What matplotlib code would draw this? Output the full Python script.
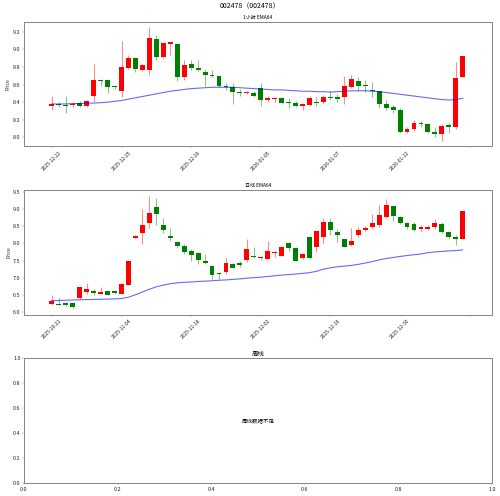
import matplotlib
matplotlib.use("Agg")
import matplotlib.pyplot as plt
import numpy as np

plt.rcParams['font.family'] = ['Noto Sans CJK SC', 'DejaVu Sans']
plt.rcParams['axes.unicode_minus'] = False

# 1 hour candles
h_open = [8.36, 8.38, 8.37, 8.37, 8.39, 8.36, 8.47, 8.65, 8.65, 8.575,
          8.53, 8.79, 8.90, 8.77, 8.765, 9.12, 8.915, 9.065, 9.06, 8.684,
          8.834, 8.788, 8.742, 8.715, 8.703, 8.584, 8.577, 8.519, 8.503, 8.507,
          8.557, 8.427, 8.442, 8.453, 8.40, 8.396, 8.353, 8.369, 8.408, 8.40,
          8.465, 8.457, 8.461, 8.576, 8.642, 8.60, 8.542, 8.523, 8.376, 8.346,
          8.315, 8.061, 8.10, 8.169, 8.157, 8.065, 8.038, 8.142, 8.115, 8.692]
h_close = [8.38, 8.37, 8.36, 8.38, 8.36, 8.41, 8.65, 8.64, 8.57, 8.57,
           8.80, 8.90, 8.776, 8.823, 9.13, 8.915, 9.069, 9.084, 8.692, 8.823,
           8.784, 8.769, 8.707, 8.70, 8.58, 8.573, 8.511, 8.503, 8.519, 8.476,
           8.427, 8.45, 8.453, 8.388, 8.388, 8.361, 8.377, 8.453, 8.392, 8.461,
           8.453, 8.442, 8.58, 8.661, 8.588, 8.58, 8.527, 8.384, 8.33, 8.315,
           8.057, 8.10, 8.165, 8.157, 8.057, 8.042, 8.126, 8.115, 8.68, 8.923]
h_high = [8.47, 8.40, 8.47, 8.40, 8.41, 8.42, 8.84, 8.66, 8.66, 8.585,
          9.10, 8.938, 8.915, 8.838, 9.253, 9.161, 9.084, 9.084, 9.061, 8.876,
          8.876, 8.876, 8.776, 8.761, 8.703, 8.623, 8.615, 8.546, 8.53, 8.53,
          8.623, 8.469, 8.453, 8.461, 8.446, 8.415, 8.384, 8.469, 8.461, 8.484,
          8.53, 8.492, 8.703, 8.715, 8.684, 8.653, 8.63, 8.53, 8.423, 8.369,
          8.33, 8.115, 8.192, 8.184, 8.165, 8.115, 8.153, 8.161, 8.853, 8.923]
h_low = [8.31, 8.34, 8.28, 8.35, 8.35, 8.35, 8.40, 8.58, 8.51, 8.55,
         8.46, 8.78, 8.746, 8.754, 8.715, 8.884, 8.907, 8.938, 8.638, 8.653,
         8.761, 8.753, 8.584, 8.692, 8.573, 8.538, 8.384, 8.476, 8.492, 8.461,
         8.361, 8.40, 8.40, 8.384, 8.33, 8.346, 8.307, 8.361, 8.361, 8.384,
         8.422, 8.407, 8.384, 8.561, 8.53, 8.511, 8.461, 8.33, 8.307, 8.28,
         8.046, 8.053, 8.069, 8.115, 8.05, 8.007, 7.961, 8.053, 8.10, 8.692]
h_ema = [8.38, 8.38, 8.38, 8.385, 8.385, 8.39, 8.39, 8.395, 8.40, 8.41,
         8.42, 8.435, 8.45, 8.465, 8.48, 8.495, 8.51, 8.525, 8.535, 8.545,
         8.555, 8.56, 8.565, 8.57, 8.57, 8.57, 8.57, 8.565, 8.56, 8.555,
         8.55, 8.545, 8.54, 8.54, 8.535, 8.53, 8.525, 8.525, 8.52, 8.52,
         8.515, 8.52, 8.525, 8.53, 8.53, 8.53, 8.525, 8.52, 8.51, 8.50,
         8.49, 8.48, 8.47, 8.46, 8.45, 8.44, 8.43, 8.425, 8.43, 8.445]
h_ticklabels = ['2025-12-22', '2025-12-25', '2025-12-29', '2026-01-05',
                '2026-01-07', '2026-01-12', '']

# daily candles
d_open = [6.25, 6.25, 6.278, 6.278, 6.412, 6.585, 6.613, 6.546, 6.613, 6.613,
          6.546, 6.795, 8.16, 8.296, 8.583, 9.042, 8.516, 8.20, 8.028, 7.933,
          7.77, 7.713, 7.483, 7.349, 7.139, 7.177, 7.397, 7.436, 7.522, 7.636,
          7.569, 7.56, 7.722, 7.646, 8.00, 7.875, 7.579, 8.172, 7.885, 8.181,
          8.631, 8.325, 8.114, 7.942, 8.248, 8.382, 8.468, 8.535, 8.774, 9.08,
          8.755, 8.593, 8.564, 8.401, 8.411, 8.459, 8.545, 8.325, 8.172, 8.124]
d_close = [6.32, 6.212, 6.202, 6.145, 6.747, 6.68, 6.565, 6.594, 6.517, 6.565,
           6.814, 7.48, 8.22, 8.516, 8.87, 8.841, 8.382, 8.162, 7.914, 7.741,
           7.655, 7.522, 7.436, 7.082, 7.101, 7.426, 7.292, 7.369, 7.828, 7.608,
           7.617, 7.78, 7.741, 7.885, 7.866, 7.502, 7.684, 7.579, 8.344, 8.612,
           8.382, 8.229, 7.904, 8.057, 8.392, 8.44, 8.583, 8.832, 9.109, 8.784,
           8.593, 8.478, 8.392, 8.459, 8.459, 8.593, 8.315, 8.172, 8.124, 8.937]
d_high = [6.508, 6.412, 6.298, 6.298, 6.747, 6.842, 6.68, 6.728, 6.623, 6.642,
          6.852, 7.48, 8.23, 8.994, 9.357, 9.31, 8.746, 8.449, 8.067, 7.971,
          7.847, 7.751, 7.703, 7.369, 7.158, 7.579, 7.426, 7.483, 8.114, 7.885,
          7.636, 8.076, 7.789, 7.914, 8.038, 7.885, 7.713, 8.20, 8.344, 8.746,
          8.726, 8.42, 8.134, 8.44, 8.478, 8.497, 8.841, 9.109, 9.281, 9.08,
          8.784, 8.612, 8.631, 8.516, 8.535, 8.707, 8.631, 8.344, 8.229, 8.937]
d_low = [6.221, 6.202, 6.173, 6.135, 6.393, 6.546, 6.498, 6.546, 6.498, 6.537,
         6.527, 6.79, 8.15, 7.971, 8.449, 8.535, 8.306, 8.057, 7.875, 7.703,
         7.493, 7.388, 7.407, 6.957, 6.967, 7.101, 7.273, 7.321, 7.464, 7.579,
         7.512, 7.541, 7.617, 7.627, 7.77, 7.483, 7.541, 7.56, 7.751, 7.981,
         8.229, 8.038, 7.885, 7.923, 8.181, 8.363, 8.401, 8.478, 8.736, 8.65,
         8.545, 8.401, 8.363, 8.325, 8.373, 8.42, 8.296, 8.134, 7.961, 8.124]
d_ema = [6.34, 6.345, 6.35, 6.36, 6.365, 6.37, 6.375, 6.38, 6.385, 6.39,
         6.40, 6.44, 6.51, 6.59, 6.67, 6.74, 6.79, 6.83, 6.855, 6.87,
         6.88, 6.895, 6.905, 6.915, 6.93, 6.94, 6.955, 6.97, 6.99, 7.005,
         7.02, 7.04, 7.06, 7.08, 7.095, 7.11, 7.13, 7.15, 7.19, 7.25,
         7.29, 7.32, 7.34, 7.36, 7.39, 7.43, 7.47, 7.52, 7.56, 7.59,
         7.62, 7.645, 7.67, 7.69, 7.73, 7.75, 7.765, 7.78, 7.79, 7.81]
d_ticklabels = ['2025-10-21', '2025-11-04', '2025-11-18', '2025-12-02',
                '2025-12-16', '2025-12-30', '']


def drawCandles(ax, opens, highs, lows, closes, ema, ticklabels, ylim):
    opens = np.array(opens)
    closes = np.array(closes)
    x = np.arange(len(opens))
    colors = np.where(closes >= opens, 'red', 'green')
    ax.vlines(x, lows, highs, colors=colors, linewidth=2.2, alpha=0.45, zorder=1)
    height = closes - opens
    height = np.where(np.abs(height) < 0.006, 0.006, height)
    ax.bar(x, height, bottom=opens, width=0.7, color=colors, zorder=2)
    ax.plot(x, ema, color='blue', linewidth=2.2, alpha=0.6, zorder=3)
    ax.set_xticks(np.arange(0, 61, 10))
    ax.set_xticklabels(ticklabels, rotation=45)
    ax.set_xlim(-4, 63.2)
    ax.set_ylim(*ylim)
    ax.set_ylabel('Price', fontsize=10, color='#222222')


fig, axes = plt.subplots(3, 1, figsize=(14, 13.888), dpi=500 / 14)
plt.subplots_adjust(left=0.048, right=0.984, top=0.956, bottom=0.026, hspace=0.35)

drawCandles(axes[0], h_open, h_high, h_low, h_close, h_ema, h_ticklabels, (7.896, 9.315))
axes[0].set_title('1小时 EMA64', fontsize=10)
drawCandles(axes[1], d_open, d_high, d_low, d_close, d_ema, d_ticklabels, (5.93, 9.54))
axes[1].set_title('日线 EMA64', fontsize=10)

axes[2].set_title('周线', fontsize=13)
axes[2].text(0.5, 0.5, '周线数据不足', ha='center', va='center', fontsize=11,
             transform=axes[2].transAxes)

for ax in axes:
    for sp in ax.spines.values():
        sp.set_color('#888888')
        sp.set_linewidth(2)
    ax.tick_params(colors='#888888', labelcolor='#222222', labelsize=11)
axes[0].tick_params(axis='x', labelsize=10)
axes[1].tick_params(axis='x', labelsize=10)

fig.suptitle('002478（002478）', fontsize=14, y=0.995)
fig.savefig('out.png')
